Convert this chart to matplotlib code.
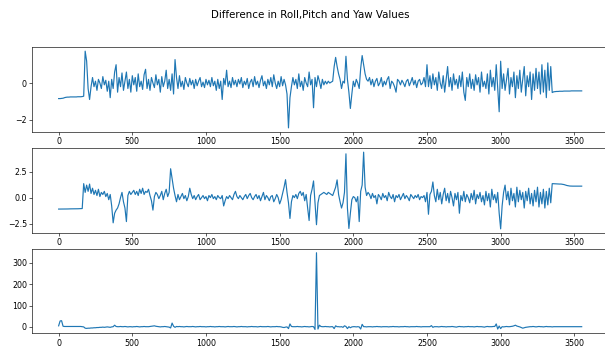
import numpy as np
import matplotlib
matplotlib.use("Agg")
import matplotlib.pyplot as plt

# difference values, one reading every 10 samples
roll_diff = [
    -0.85, -0.85, -0.84, -0.83, -0.80, -0.78, -0.77, -0.77, -0.76, -0.76, -0.76, -0.76, -0.76, -0.75, -0.75, -0.75, -0.74, -0.72,
    1.74, 1.2, -0.3, -0.9, -0.2,
    0.3, -0.2, 0.1, -0.4, 0.2, 0.0, -0.3, 0.35, -0.1, 0.15, -0.45, 0.1, -0.8, 0.2, -0.3, 0.6, 1.0,
    -0.5, 0.3, -0.2, 0.55, -0.4, 0.1, 0.6, -0.3, 0.2, -0.5, 0.4, -0.1, 0.3, -0.45, 0.5, -0.2, 0.1, -0.35, 0.45, 0.75, -0.3,
    0.2, -0.4, 0.3, 0.0, -0.25, 0.45, -0.1, 0.2, -0.5, 0.35, -0.2, 0.1, 0.7, -0.3, 0.2, -0.4, 0.5, -0.6, 1.28, 0.3,
    -0.3, 0.4, -0.2, 0.1, -0.35, 0.3, 0.0, -0.2, 0.25, -0.1, 0.15, -0.3, 0.2, -0.15, 0.1, 0.3, -0.2, 0.05, -0.25, 0.2,
    -0.1, 0.15, -0.2, 0.3, -0.15, 0.1, -0.4, 0.2, -0.3, 0.1, -0.9, 0.25, -0.1, 0.7, -0.2, 0.1, -0.25, 0.3, -0.1, 0.15,
    -0.2, 0.2, -0.05, 0.3, -0.25, 0.1, -0.1, 0.25, -0.3, 0.05, 0.2, -0.2, 0.35, -0.1, 0.1, -0.25, 0.15, 0.4, -0.15, 0.1,
    -0.3, 0.2, -0.1, 0.3, -0.2, 0.45, 0.0, -0.3, 0.1, -0.2, 0.35, -0.15, 0.2, -0.1, -0.6,
    -2.45, -0.8, -0.2,
    0.3, -0.1, 0.2, -0.3, 0.5, -0.2, 0.1, -0.4, 0.3, 0.0, -0.2, 0.6, -0.1, 0.2, -1.35, 0.3, -0.2, 0.4, 0.1, -0.3, 0.2, -0.1,
    0.1, -0.05, 0.1, 0.0, 0.05, 0.1, 0.9, 1.4, 0.9, 0.5,
    0.2, -0.3, 0.1, 0.0, 1.46, 0.2, -0.5, -1.39, -0.6, 0.1,
    -0.2, 0.2, 0.0, -0.3, 0.8, 1.5, 1.0, 0.5, 0.2, 0.1,
    0.3, -0.1, 0.2, -0.2, 0.1, 0.25, -0.15, 0.0, 0.3, -0.2, 0.1, -0.1, 0.2, 0.35, -0.3, 0.1, 0.0, -0.2, -0.5, 0.2,
    0.1, -0.1, 0.15, 0.0, -0.2, 0.1, 0.2, -0.15, 0.05, 0.3, -0.1, 0.15, -0.25, 0.1, 0.2, -0.1, 0.0, 0.3, -0.2, 1.0,
    -0.2, 0.4, -0.3, 0.5, -0.1, 0.3, -0.4, 0.6, 0.0, -0.3, 0.4, -0.5, 0.2, 0.9, -0.2, 0.3, -0.4, 0.5, -0.1, 0.2,
    -0.3, 0.4, -0.2, 0.6, -0.5, -0.95, 0.3, -0.2, 0.5, -0.3, 0.2, -0.4, 0.45, -0.1, 0.3, -0.5, 0.6, -0.2, 0.1, -0.3,
    0.5, -0.6, 0.7, -0.2, 0.3, -0.4, 1.0, -0.3, -1.57, 1.19,
    -0.3, 0.5, -0.4, 0.2, 0.8, -0.6, 0.3, -0.2, 0.6, -0.8, 0.4, -0.3, 0.7, -0.5, 0.2, 0.9, -0.7, 0.4, -0.2, 0.6,
    -0.9, 0.5, -0.4, 0.8, -0.3, 0.6, -0.6, 1.0, -0.5, 0.7, -0.8, 1.1, -0.4, 0.9,
    -0.52, -0.48, -0.47, -0.46, -0.46, -0.45, -0.45, -0.45, -0.44, -0.44, -0.44, -0.44, -0.44, -0.43, -0.43, -0.43,
    -0.43, -0.43, -0.43, -0.43, -0.43,
]

pitch_diff = [
    -1.1, -1.1, -1.1, -1.09, -1.09, -1.09, -1.09, -1.08, -1.08, -1.08, -1.08, -1.07, -1.07, -1.07, -1.06, -1.06, -1.05,
    1.34, 0.5, 1.2, 0.6, 1.3, 0.4, 0.9, 0.3, 0.7, 0.2, 0.8, 0.1, 0.5, 0.3,
    0.6, 0.1, 0.4, -0.2, 0.3, -0.8, -2.42, -1.5, -1.2, -1.0, -0.6, 0.0, 0.5, -0.4, -1.0, -2.3, 0.2, 0.6, 0.3, 0.5,
    0.7, 0.3, 0.6, 0.2, 0.8, 0.4, 0.9, 0.3, 0.6, 0.5, 0.8, 0.2, -0.3, -1.2, 0.1, 0.5, 0.3, -0.1, 0.2, 0.6,
    -0.2, 0.4, 0.8, 0.1, 0.5,
    2.77, 1.8, 0.9, 0.2, -0.4,
    0.3, -0.2, 0.1, 0.4, -0.1, 0.2, -0.3, 0.1, 0.9, 0.3, -0.1, 0.2, -0.2, 0.1, 0.3, -0.2, 0.0, 0.2, -0.1, 0.1,
    -0.3, 0.2, 0.0, 0.3, -0.1, 0.1, -0.2, 0.2, 0.0, -0.1, 0.2, -0.8, -0.3, 0.1, -0.1, 0.2, 0.0, -0.2, 0.3, 0.6,
    0.1, -0.1, 0.2, 0.0, -0.2, 0.1, 0.3, -0.1, 0.2, 0.4, 0.0, -0.2, 0.1, 0.3, -0.1, 0.2, -0.3, 0.1, 0.5, -0.2,
    0.2, 0.0, -0.3, 0.1, 0.2, -0.4, -0.1, 0.3, 0.0, -0.6,
    -0.2, 0.4, 1.0, 1.72, 0.5, -0.5, -2.0, -0.4, 0.2, 0.0,
    0.3, -0.1, 0.4, 0.6, 0.2, 0.5, -0.3, 0.3, -1.0, -2.2, 0.2, 0.8, 1.6, -0.5, -2.6,
    -0.5, 0.2, 0.3, 0.4, 0.5, 0.4, 0.3, 0.5, 0.4, 0.3, 0.2, 0.6, 1.0, 1.7, 0.3,
    -0.4, -1.0, -0.5, 0.5, 4.2, -1.0, -2.96, -1.5, -0.2, 0.1,
    0.0, -0.4, 0.1, -2.3, 0.6, 1.2, 4.36, 1.0, 0.2, 0.5,
    0.3, -0.1, 0.4, 0.0, 0.2, -0.6, 0.3, 0.1, -0.2, 0.4, 0.0, 0.2, -0.3, 0.5, 0.1, -0.1, 0.3, -0.4, 0.2, 0.0,
    0.3, -0.2, 0.1, 0.4, -0.1, 0.2, 0.0, -0.3, 0.3, 0.1, -0.1, 0.2, 0.0, 0.3, -0.2, 0.1, 0.0, 0.2, -0.4, 0.5,
    -1.6, 0.3, 0.6, 1.5, 0.2, -0.4, 0.8, -0.2, 0.5, -0.6, 0.3, 0.9, -0.3, 0.4, -0.5, 0.6, 0.0, -0.8, 0.4, -0.2,
    0.5, -1.5, 0.2, -0.3, 0.6, -0.4, 0.3, 0.0, -0.5, 0.4, -0.2, 0.7, -0.6, 0.3, -0.1, 0.5, -0.4, 0.2, -0.7, 0.6,
    -0.3, 0.4, -0.9, 0.8, -0.2, 0.3, -0.5, 0.5, -1.5, -3.0,
    -0.8, 0.5, 1.2, -0.2, 0.6, -0.7, 0.9, -0.3, 0.4, -0.9, 1.0, -0.4, 0.7, -0.2, 0.5, -1.0, 0.6, -0.3, 0.9, -0.6,
    0.4, -0.8, 0.7, -0.4, 1.0, -0.9, 0.5, -0.6, 0.8, -1.0, 0.6, -0.7, 0.9, -0.5,
    1.34, 1.33, 1.32, 1.32, 1.31, 1.30, 1.30, 1.28, 1.25, 1.20, 1.16, 1.13, 1.11, 1.10, 1.10, 1.10, 1.10, 1.10,
    1.10, 1.10, 1.10,
]

yaw_diff = [
    5, 28, 29, 3,
    2, 2, 2, 2, 2, 2, 2, 2, 2, 2, 2, 2, 1, 0,
    -6, -7, -6, -6, -5, -5, -4, -4, -3,
    -3, -2, -2, -1, -2, -1, 0, -1, -2, 0, 1, 8, 2, 1,
    1, 2, 1, 1, 2, 1, 0, 1, 1, 0, 1, 1, 2, 1, 0, 1, 1, 2, 1, 1,
    1, 2, 3, 4, 5, 3, 2, 1, 0, 1, 1, 2, 1, 0, -1,
    -5, 18, 3, -2, 2,
    1, 2, 1, 1, 0, 1, 2, 1, 1, 1, 2, 1, 0, 1, 1, 2, 1, 1, 1, 0,
    1, 1, 2, 1, 1, 0, 1, 1, 2, 1, 1, 1, 0, 1, 2, 1, 1, 1, 2, 1,
    0, 1, 1, 2, 1, 1, 1, 0, 1, 1, 2, 1, 1, 1, 0, 1, 2, 1, 1, 1,
    1, 2, 1, 0, 1, 1, 1, 2, 1, 1, 0, -2, -3, -1, 0,
    -8, 14, 2, 1, 1,
    1, 2, 1, 1, 0, 1, 2, 1, 1, 0, 1, 2, 1,
    -12, 348, -10, 8, 2,
    1, 1, 2, 1, 1, 0, 1, 1, -8, 5, 1, 1,
    0, 1, -2, 5, 2, -8, 1, -4, 0, 1, 1, 0, 1, 0, -10, 12, 1, 1, 0, 1,
    1, 1, 0, 1, 1, 2, 1, 1, 0, 1, 1, 1, 1, 0, 1, 1, 2, 1, 1, 1,
    0, 1, 1, 1, 2, 1, 1, 0, 1, 1, 1, 1, 2, 1, 1, 0, 1, 1, 1, 1,
    1, 1, 6, -2, 1,
    1, 1, 0, 1, 2, 1, 1, 0, 1, 1, 1, 2, 1, 0, -1, 1, 2, 1, 1, 0,
    1, 1, 2, 1, 1, 1, 0, 1, 2, 1, 1, 1, 0, -1, 1, 2, 1, 1, 1, 2,
    2, 14, -10, 4, -8,
    1, 0, 1, 2, 1, 1, 2, 3, 5, 8, 4, 2, 0, -3, -6, -4, -2, -1, 0, 1,
    1, 2, 1, 0, 1, 2, 1, 1, 0, 1, 2, 1, 1, 1, 0, 1, 1, 1, 1, 1,
    1, 1, 1, 1, 1, 1, 1, 1, 1, 1, 1, 1, 1, 1, 1,
]

roll_ticks = [-2, 0]
pitch_ticks = [-2.5, 0.0, 2.5]
yaw_ticks = [0, 100, 200, 300]
x_ticks = [0, 500, 1000, 1500, 2000, 2500, 3000, 3500]

dpi = 56.6
fig = plt.figure(figsize=(605 / dpi, 349 / dpi), dpi=dpi)
fig.suptitle('Difference in Roll,Pitch and Yaw Values', x=0.513, y=0.97, fontsize=13)

# axes boxes in figure fraction (left, bottom, width, height)
boxes = [(0.0537, 0.6226, 0.951, 0.2418),
         (0.0537, 0.3332, 0.951, 0.2418),
         (0.0537, 0.0450, 0.951, 0.2418)]
series = [roll_diff, pitch_diff, yaw_diff]
ticks = [roll_ticks, pitch_ticks, yaw_ticks]

for box, values, yt in zip(boxes, series, ticks):
    ax = fig.add_axes(box)
    x = np.arange(len(values)) * 10
    ax.plot(x, values)
    ax.set_yticks(yt)
    ax.set_xticks(x_ticks)

fig.savefig('out.png', dpi=dpi)
